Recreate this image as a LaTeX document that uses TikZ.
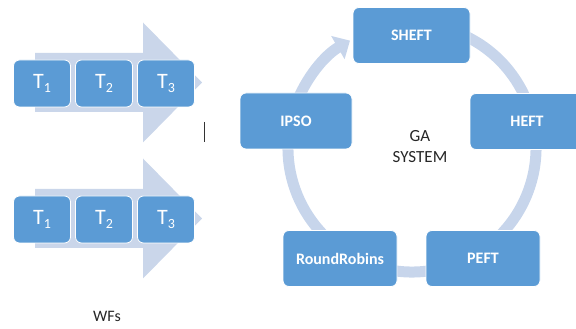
\documentclass[tikz,border=0pt]{standalone}
\usepackage{fontspec}
\setmainfont{Carlito}
\usetikzlibrary{arrows.meta}
\definecolor{boxblue}{RGB}{91,155,213}
\definecolor{ringblue}{RGB}{199,213,235}
\definecolor{shaftblue}{RGB}{202,214,234}

\begin{document}
\begin{tikzpicture}[x=1pt, y=1pt,
  alg/.style={rectangle, draw=white, line width=0.8pt, fill=boxblue, rounded corners=6pt, minimum width=114pt, minimum height=56pt, text=white, font=\fontsize{16}{19}\selectfont\bfseries},
  task/.style={alg, minimum width=57pt, minimum height=47pt, font=\fontsize{22}{24}\selectfont},
  ring/.style={line width=11pt, draw=ringblue, -{Triangle[length=14pt, width=26pt]}},
  lbl/.style={align=center, text=black!85, font=\fontsize{17}{21}\selectfont}
]
  \useasboundingbox (0,0) rectangle (576,329);

  % workflows
  \foreach \r/\yc in {1/246.5, 2/110.5} {
    \fill[shaftblue] (35,\yc+29.5) -- (143,\yc+29.5) -- (143,\yc+60) -- (202,\yc)
      -- (143,\yc-60) -- (143,\yc-29.5) -- (35,\yc-29.5) -- cycle;
    \node[task] (t\r1) at (42,\yc-1)  {T\raisebox{-4pt}{\fontsize{14}{14}\selectfont 1}};
    \node[task] (t\r2) at (104,\yc-1) {T\raisebox{-4pt}{\fontsize{14}{14}\selectfont 2}};
    \node[task] (t\r3) at (166,\yc-1) {T\raisebox{-4pt}{\fontsize{14}{14}\selectfont 3}};
  }
  \node[lbl, font=\fontsize{16}{19}\selectfont] (wfs) at (107,13) {WFs};
  \draw[line width=1pt, black!80] (204,207) -- (204,187);

  % GA cycle
  \coordinate (c) at (412,181);
  \draw[ring] ([shift={(70:124)}]c) arc[start angle=70, end angle=-240, radius=124];

  \node[alg, minimum width=117pt] (sheft) at (411.5,293.5) {SHEFT};
  \node[alg] (heft)  at (527,207.5) {HEFT};
  \node[alg] (peft)  at (483,70.5)  {PEFT};
  \node[alg] (rr)    at (340,70.5)  {RoundRobins};
  \node[alg, minimum width=112pt] (ipso) at (296,208) {IPSO};
  \node[lbl] (ga) at (420,182) {GA\\SYSTEM};
\end{tikzpicture}
\end{document}
